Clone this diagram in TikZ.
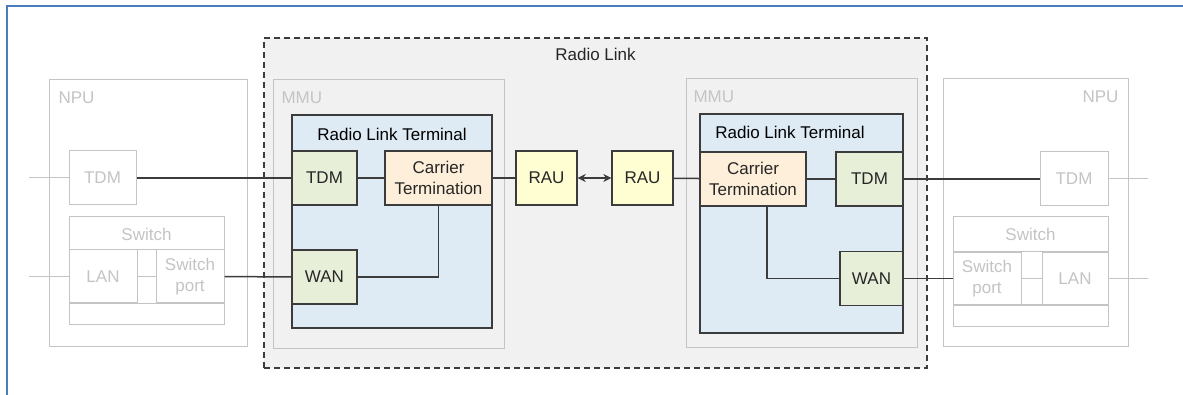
\documentclass[tikz,border=0pt]{standalone}
\usepackage{fontspec}
\setmainfont{Liberation Sans}
\usetikzlibrary{arrows.meta}
\definecolor{frameblue}{HTML}{4A7EBB}
\definecolor{linkgray}{HTML}{F0F1F0}
\definecolor{palegray}{HTML}{C4C4C4}
\definecolor{rltblue}{HTML}{DEEBF5}
\definecolor{portgreen}{HTML}{E8EFD9}
\definecolor{carrierorange}{HTML}{FDEFD9}
\definecolor{rauyellow}{HTML}{FEFED2}
\definecolor{darkline}{HTML}{3C3C3C}
\tikzset{
  box/.style={rectangle,inner sep=0pt,minimum width=#1},
  pale/.style={draw=palegray,line width=1pt,text=palegray},
  dark/.style={draw=darkline,line width=1.4pt,text=black!85},
  wire/.style={draw=darkline,line width=1.5pt},
  thinwire/.style={draw=palegray,line width=1pt}
}
\begin{document}
\begin{tikzpicture}[x=1pt,y=-1pt,font=\fontsize{17}{21}\selectfont]
	\useasboundingbox (0,0) rectangle (1183,395);
	\draw [frameblue,line width=2pt] (7,395) -- (7,6) -- (1183,6);
	\node [box=663,minimum height=330,fill=linkgray,draw=darkline,line width=1.2pt,dash pattern=on 6pt off 4pt] (link) at (595.5,203) {};
	\node [text=black!85] (linklbl) at (595.5,54) {Radio Link};
	% left NPU
	\node [box=198,minimum height=266,pale,fill=white] (npuL) at (148,213) {};
	\node [anchor=north west,text=palegray] (npuLlbl) at (55,88) {NPU};
	\node [box=67,minimum height=54,pale] (tdmNL) at (102.5,178) {TDM};
	\node [box=155,minimum height=107,pale] (swL) at (146.5,270.5) {};
	\node [text=palegray] (swLlbl) at (146.5,234) {Switch};
	\node [box=68,minimum height=53,pale] (lanL) at (103,276.5) {LAN};
	\node [box=68,minimum height=53,pale,align=center] (spL) at (190,276.5) {Switch\\port};
	\draw [thinwire] (lanL.north west) -- (spL.north east);
	\draw [thinwire] (lanL.south west) -- (spL.south east);
	\draw [thinwire] (lanL) -- (spL);
	\coordinate (inTL) at (29,178);
	\coordinate (inLL) at (29,276.5);
	\draw [thinwire] (inTL) -- (tdmNL);
	\draw [thinwire] (inLL) -- (lanL);
	% left MMU
	\node [box=231,minimum height=268,pale,fill=linkgray] (mmuL) at (388.5,214) {};
	\node [anchor=north west,text=palegray] (mmuLlbl) at (278,88) {MMU};
	\node [box=200,minimum height=213,dark,fill=rltblue] (rltL) at (392,221.5) {};
	\node (rltLlbl) at (392,134) {Radio Link Terminal};
	\node [box=65,minimum height=54,dark,fill=portgreen] (tdmL) at (324.5,178) {TDM};
	\node [box=107,minimum height=54,dark,fill=carrierorange,align=center] (ctL) at (438.5,178) {Carrier\\Termination};
	\node [box=65,minimum height=54,dark,fill=portgreen] (wanL) at (324.5,277) {WAN};
	% radio units
	\node [box=61,minimum height=54,dark,fill=rauyellow] (rauL) at (546.5,178) {RAU};
	\node [box=61,minimum height=54,dark,fill=rauyellow] (rauR) at (642.5,178) {RAU};
	% right MMU
	\node [box=231,minimum height=268,pale,fill=linkgray] (mmuR) at (801.5,213) {};
	\node [anchor=north west,text=palegray] (mmuRlbl) at (690,87) {MMU};
	\node [box=203,minimum height=219,dark,fill=rltblue] (rltR) at (801.5,223.5) {};
	\node (rltRlbl) at (790,132) {Radio Link Terminal};
	\node [box=106,minimum height=54,dark,fill=carrierorange,align=center] (ctR) at (753,179) {Carrier\\Termination};
	\node [box=67,minimum height=54,dark,fill=portgreen] (tdmR) at (869.5,179) {TDM};
	\node [box=63,minimum height=54,dark,fill=portgreen] (wanR) at (871.5,278.5) {WAN};
	% right NPU
	\node [box=185,minimum height=267,pale,fill=white] (npuR) at (1035.5,212.5) {};
	\node [anchor=north east,text=palegray] (npuRlbl) at (1122,87) {NPU};
	\node [box=68,minimum height=54,pale] (tdmNR) at (1074,179) {TDM};
	\node [box=155,minimum height=109,pale] (swR) at (1030.5,271.5) {};
	\node [text=palegray] (swRlbl) at (1030.5,234) {Switch};
	\node [box=68,minimum height=52,pale,align=center] (spR) at (987,278.5) {Switch\\port};
	\node [box=66,minimum height=52,pale] (lanR) at (1075,278.5) {LAN};
	\draw [thinwire] (spR.north west) -- (lanR.north east);
	\draw [thinwire] (spR.south west) -- (lanR.south east);
	\draw [thinwire] (spR) -- (lanR);
	\coordinate (outTR) at (1148,179);
	\coordinate (outLR) at (1148,278.5);
	\draw [thinwire] (tdmNR) -- (outTR);
	\draw [thinwire] (lanR) -- (outLR);
	% links
	\draw [wire] (tdmNL) -- (tdmL);
	\draw [wire] (spL) -- (wanL);
	\draw [wire] (tdmL) -- (ctL);
	\draw [wire] (wanL) -| (ctL.south);
	\draw [wire] (ctL) -- (rauL);
	\draw [wire,{Stealth[length=8pt,width=8pt]}-{Stealth[length=8pt,width=8pt]}] (rauL) -- (rauR);
	\draw [wire] (rauR) -- (ctR);
	\draw [wire] (ctR) -- (tdmR);
	\draw [wire] ([xshift=14pt]ctR.south) |- (wanR);
	\draw [wire] (tdmR) -- (tdmNR);
	\draw [wire] (wanR) -- (spR);
\end{tikzpicture}
\end{document}
